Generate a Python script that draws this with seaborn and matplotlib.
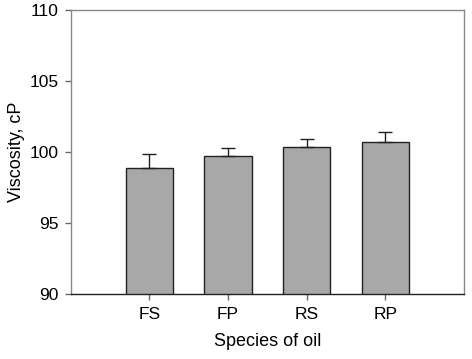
import matplotlib
matplotlib.use("Agg")
import matplotlib.pyplot as plt
import seaborn as sns
import pandas as pd

species = ["FS", "FP", "RS", "RP"]
viscosity = [98.85, 99.74, 100.33, 100.70]
sd = [1.03, 0.52, 0.56, 0.71]

df = pd.DataFrame({"species": species, "viscosity": viscosity})

sns.set_style("ticks")
plt.rcParams["font.family"] = ["Liberation Sans", "DejaVu Sans"]
plt.rcParams["text.color"] = "black"
plt.rcParams["axes.labelcolor"] = "black"
plt.rcParams["xtick.labelcolor"] = "black"
plt.rcParams["ytick.labelcolor"] = "black"

fig = plt.figure(figsize=(4.72, 3.59), dpi=100)
ax = fig.add_axes([0.150, 0.181, 0.833, 0.791])

sns.barplot(data=df, x="species", y="viscosity", color="#a8a8a8",
            edgecolor="#222222", linewidth=1.0, width=0.6, saturation=1, ax=ax)
ax.errorbar(range(len(species)), viscosity, yerr=[[0] * 4, sd], fmt="none",
            ecolor="#222222", elinewidth=1.0, capsize=5, capthick=1.0)

ax.set_ylim(90, 110)
ax.set_xlim(-1, 4)
ax.set_yticks([90, 95, 100, 105, 110])
ax.set_xlabel("Species of oil", fontsize=13, labelpad=8)
ax.set_ylabel("Viscosity, cP", fontsize=13, labelpad=3)
ax.tick_params(labelsize=12.5, length=4, width=1, color="#666666", pad=5)
for s in ["left", "top", "right"]:
    ax.spines[s].set_color("#888888")
ax.spines["bottom"].set_color("#222222")
for s in ax.spines.values():
    s.set_linewidth(1.0)

fig.savefig("out.png", dpi=100)
